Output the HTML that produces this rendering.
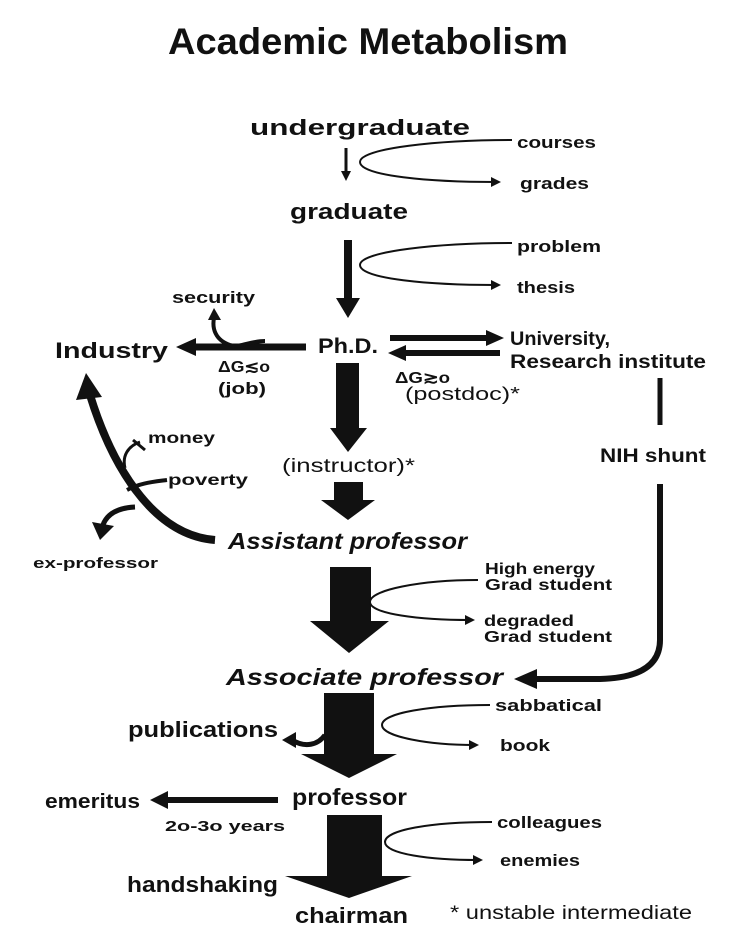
<!DOCTYPE html>
<html><head><meta charset="utf-8"><style>
html,body{margin:0;padding:0;background:#fff;}
svg{display:block;}
text{font-family:"Liberation Sans",sans-serif;fill:#111;}
.b{font-weight:bold;}
</style></head><body>
<svg width="736" height="932" viewBox="0 0 736 932" xmlns="http://www.w3.org/2000/svg">
<defs>
<marker id="ah" markerWidth="10" markerHeight="10" refX="5" refY="5" orient="auto" markerUnits="userSpaceOnUse" viewBox="0 0 10 10">
<path d="M0,0 L10,5 L0,10 z" fill="#111"/></marker>
</defs>
<text x="168" y="54" class="b" font-size="37" textLength="400" lengthAdjust="spacingAndGlyphs">Academic Metabolism</text>

<text x="250" y="135" class="b" font-size="22" textLength="220" lengthAdjust="spacingAndGlyphs">undergraduate</text>
<line x1="346" y1="148" x2="346" y2="176" stroke="#111" stroke-width="3" marker-end="url(#ah)"/>
<path d="M512,140 C440,140 360,148 360,162 C360,176 430,182 496,182" fill="none" stroke="#111" stroke-width="2" marker-end="url(#ah)"/>
<text x="517" y="148" class="b" font-size="17" textLength="79" lengthAdjust="spacingAndGlyphs">courses</text>
<text x="520" y="189" class="b" font-size="17" textLength="69" lengthAdjust="spacingAndGlyphs">grades</text>

<text x="290" y="219" class="b" font-size="22" textLength="118" lengthAdjust="spacingAndGlyphs">graduate</text>
<line x1="348" y1="240" x2="348" y2="300" stroke="#111" stroke-width="8"/>
<path d="M336,298 L360,298 L348,318 z" fill="#111"/>
<path d="M512,243 C440,243 360,251 360,265 C360,279 430,285 496,285" fill="none" stroke="#111" stroke-width="2" marker-end="url(#ah)"/>
<text x="517" y="252" class="b" font-size="17" textLength="84" lengthAdjust="spacingAndGlyphs">problem</text>
<text x="517" y="293" class="b" font-size="17" textLength="58" lengthAdjust="spacingAndGlyphs">thesis</text>

<text x="318" y="353" class="b" font-size="21" textLength="60" lengthAdjust="spacingAndGlyphs">Ph.D.</text>
<line x1="306" y1="347" x2="195" y2="347" stroke="#111" stroke-width="7"/>
<path d="M196,338 L176,347 L196,356 z" fill="#111"/>
<path d="M265,341 C250,341 240,348 230,345 C215,340 212,328 214,318" fill="none" stroke="#111" stroke-width="4"/>
<path d="M208,320 L214,308 L221,320 z" fill="#111"/>
<text x="55" y="358" class="b" font-size="22" textLength="113" lengthAdjust="spacingAndGlyphs">Industry</text>
<text x="172" y="303" class="b" font-size="17" textLength="83" lengthAdjust="spacingAndGlyphs">security</text>
<text x="218" y="372" class="b" font-size="16" textLength="52" lengthAdjust="spacingAndGlyphs">ΔG≲o</text>
<text x="218" y="394" class="b" font-size="17" textLength="48" lengthAdjust="spacingAndGlyphs">(job)</text>

<line x1="390" y1="338" x2="488" y2="338" stroke="#111" stroke-width="6"/>
<path d="M486,330 L504,338 L486,346 z" fill="#111"/>
<line x1="500" y1="353" x2="404" y2="353" stroke="#111" stroke-width="6"/>
<path d="M406,345 L388,353 L406,361 z" fill="#111"/>
<text x="510" y="345" class="b" font-size="19" textLength="100" lengthAdjust="spacingAndGlyphs">University,</text>
<text x="510" y="368" class="b" font-size="19" textLength="196" lengthAdjust="spacingAndGlyphs">Research institute</text>
<text x="395" y="383" class="b" font-size="16" textLength="55" lengthAdjust="spacingAndGlyphs">ΔG≳o</text>
<text x="405" y="400" font-size="18" textLength="115" lengthAdjust="spacingAndGlyphs">(postdoc)*</text>

<rect x="336" y="363" width="23" height="68" fill="#111"/>
<path d="M330,428 L367,428 L348,452 z" fill="#111"/>
<text x="282" y="472" font-size="19" textLength="133" lengthAdjust="spacingAndGlyphs">(instructor)*</text>
<rect x="334" y="482" width="29" height="20" fill="#111"/>
<path d="M321,500 L375,500 L348,520 z" fill="#111"/>
<text x="228" y="549" class="b" font-size="23" font-style="italic" textLength="239" lengthAdjust="spacingAndGlyphs">Assistant professor</text>

<path d="M215,540 C150,535 110,460 90,395" fill="none" stroke="#111" stroke-width="8"/>
<path d="M76,400 L86,373 L102,397 z" fill="#111"/>
<path d="M125,468 C122,456 128,446 140,442" fill="none" stroke="#111" stroke-width="3"/>
<line x1="133" y1="440" x2="145" y2="450" stroke="#111" stroke-width="3"/>
<text x="148" y="443" class="b" font-size="16" textLength="67" lengthAdjust="spacingAndGlyphs">money</text>
<path d="M127,490 C140,483 152,482 167,480" fill="none" stroke="#111" stroke-width="4"/>
<text x="168" y="485" class="b" font-size="16" textLength="80" lengthAdjust="spacingAndGlyphs">poverty</text>
<path d="M135,507 C115,508 105,516 102,528" fill="none" stroke="#111" stroke-width="5"/>
<path d="M92,522 L100,540 L114,526 z" fill="#111"/>
<text x="33" y="568" class="b" font-size="15" textLength="125" lengthAdjust="spacingAndGlyphs">ex-professor</text>

<line x1="660" y1="378" x2="660" y2="425" stroke="#111" stroke-width="5"/>
<text x="600" y="462" class="b" font-size="19" textLength="106" lengthAdjust="spacingAndGlyphs">NIH shunt</text>
<path d="M660,484 L660,640 C660,665 640,678 600,679 L535,679" fill="none" stroke="#111" stroke-width="6"/>
<path d="M537,669 L514,679 L537,689 z" fill="#111"/>

<rect x="330" y="567" width="41" height="57" fill="#111"/>
<path d="M310,621 L389,621 L349,653 z" fill="#111"/>
<path d="M478,580 C420,580 370,590 370,602 C370,614 420,620 470,620" fill="none" stroke="#111" stroke-width="2" marker-end="url(#ah)"/>
<text x="485" y="574" class="b" font-size="16" textLength="110" lengthAdjust="spacingAndGlyphs">High energy</text>
<text x="485" y="590" class="b" font-size="16" textLength="127" lengthAdjust="spacingAndGlyphs">Grad student</text>
<text x="484" y="626" class="b" font-size="16" textLength="90" lengthAdjust="spacingAndGlyphs">degraded</text>
<text x="484" y="642" class="b" font-size="16" textLength="128" lengthAdjust="spacingAndGlyphs">Grad student</text>

<text x="226" y="685" class="b" font-size="23" font-style="italic" textLength="277" lengthAdjust="spacingAndGlyphs">Associate professor</text>
<rect x="324" y="693" width="50" height="63" fill="#111"/>
<path d="M301,754 L397,754 L349,778 z" fill="#111"/>
<path d="M325,735 C318,745 305,748 292,740" fill="none" stroke="#111" stroke-width="5"/>
<path d="M296,732 L282,740 L296,748 z" fill="#111"/>
<text x="128" y="737" class="b" font-size="22" textLength="150" lengthAdjust="spacingAndGlyphs">publications</text>
<path d="M490,705 C430,705 382,713 382,725 C382,737 430,745 474,745" fill="none" stroke="#111" stroke-width="2" marker-end="url(#ah)"/>
<text x="495" y="711" class="b" font-size="17" textLength="107" lengthAdjust="spacingAndGlyphs">sabbatical</text>
<text x="500" y="751" class="b" font-size="17" textLength="50" lengthAdjust="spacingAndGlyphs">book</text>

<text x="292" y="805" class="b" font-size="23" textLength="115" lengthAdjust="spacingAndGlyphs">professor</text>
<line x1="278" y1="800" x2="165" y2="800" stroke="#111" stroke-width="6"/>
<path d="M168,791 L150,800 L168,809 z" fill="#111"/>
<text x="45" y="808" class="b" font-size="20" textLength="95" lengthAdjust="spacingAndGlyphs">emeritus</text>
<text x="165" y="831" class="b" font-size="15" textLength="120" lengthAdjust="spacingAndGlyphs">2o-3o years</text>
<rect x="327" y="815" width="55" height="63" fill="#111"/>
<path d="M285,876 L412,876 L349,898 z" fill="#111"/>
<path d="M492,822 C430,822 385,830 385,842 C385,854 430,860 478,860" fill="none" stroke="#111" stroke-width="2" marker-end="url(#ah)"/>
<text x="497" y="828" class="b" font-size="17" textLength="105" lengthAdjust="spacingAndGlyphs">colleagues</text>
<text x="500" y="866" class="b" font-size="17" textLength="80" lengthAdjust="spacingAndGlyphs">enemies</text>
<text x="127" y="892" class="b" font-size="22" textLength="151" lengthAdjust="spacingAndGlyphs">handshaking</text>
<text x="295" y="923" class="b" font-size="22" textLength="113" lengthAdjust="spacingAndGlyphs">chairman</text>
<text x="450" y="919" font-size="19" textLength="242" lengthAdjust="spacingAndGlyphs">* unstable intermediate</text>
</svg>
</body></html>
